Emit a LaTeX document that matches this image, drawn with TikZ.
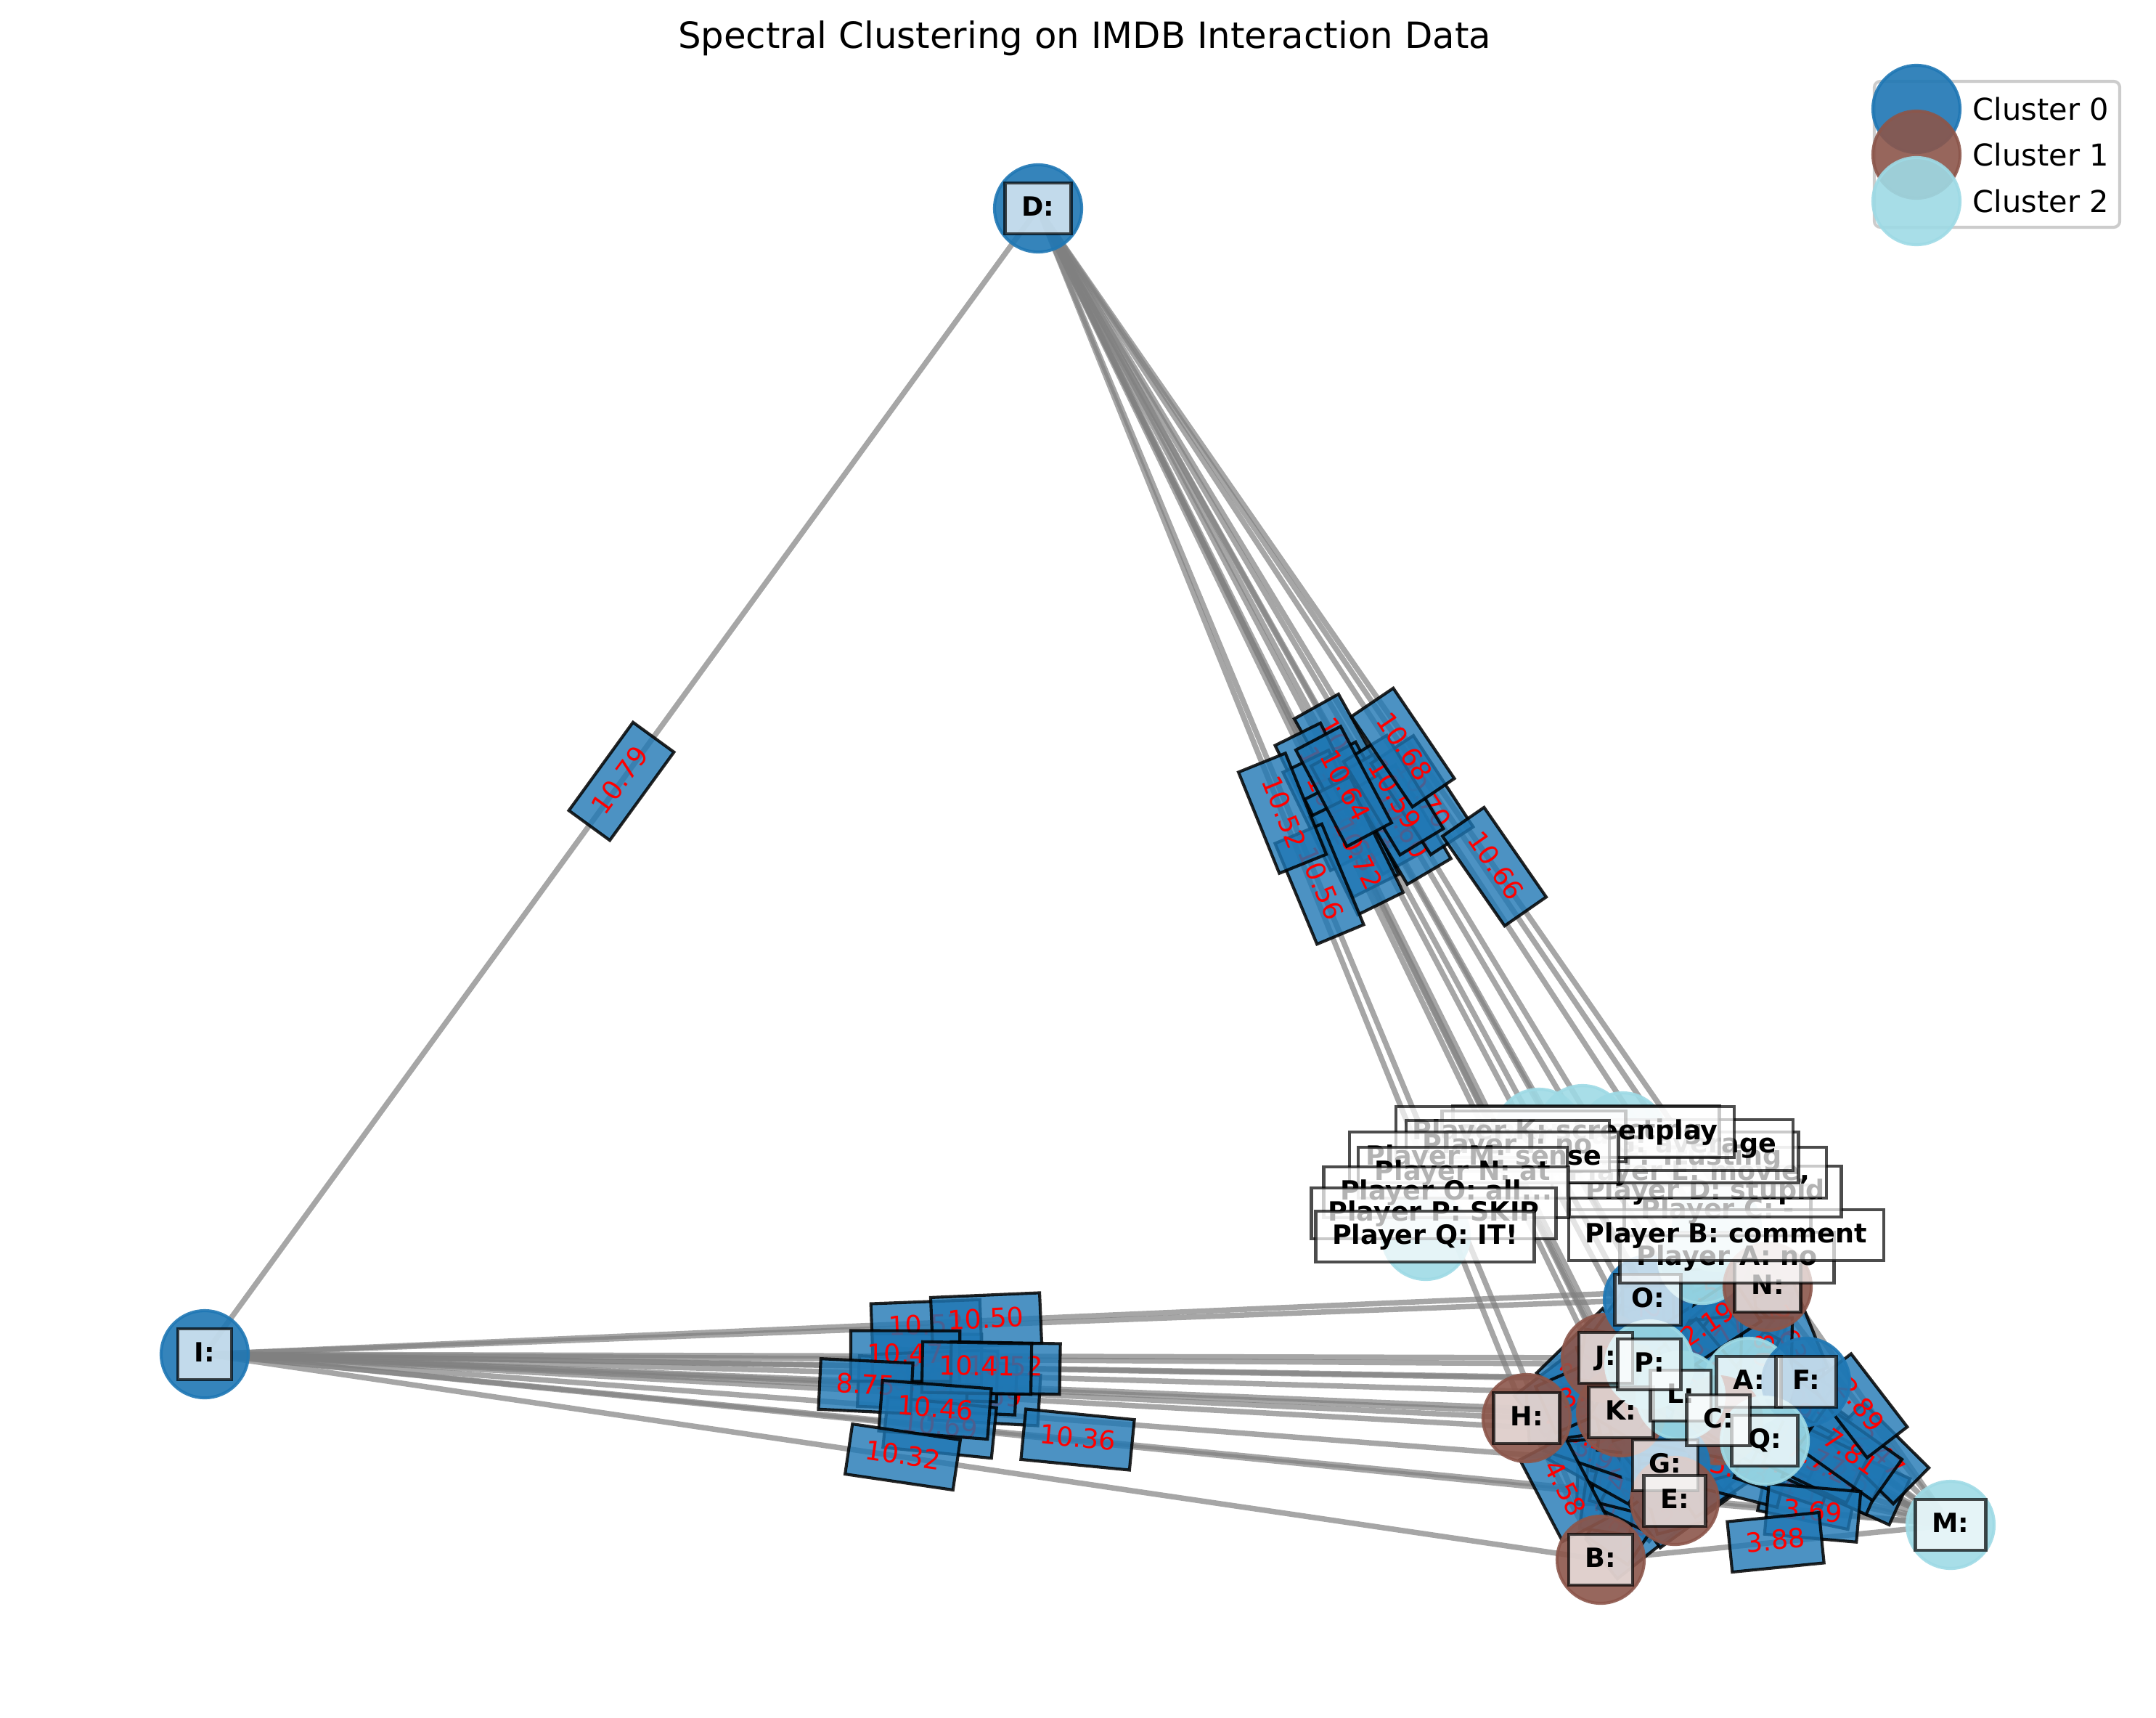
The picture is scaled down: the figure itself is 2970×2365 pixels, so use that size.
\documentclass[tikz,border=0pt]{standalone}
\usepackage{fontspec}
\setmainfont{DejaVu Sans}
\definecolor{c0}{RGB}{31,119,180}
\definecolor{c1}{RGB}{140,86,75}
\definecolor{c2}{RGB}{158,218,229}
\def\intra{A/B/5.12, A/C/2.34, A/E/4.76, A/F/3.05, A/G/6.21, A/H/5.43, A/J/3.87, A/K/4.19, A/L/2.66, A/N/3.52, A/O/4.03, A/P/2.91, A/Q/1.98,
B/C/4.27, B/E/2.85, B/F/5.66, B/G/3.14, B/J/4.92, B/K/3.73, B/L/4.41, B/N/5.29, B/O/5.07, B/P/4.64, B/Q/3.96,
C/E/2.58, C/F/3.47, C/G/2.73, C/H/4.11, C/J/3.28, C/K/2.96, C/L/1.87, C/N/3.63, C/O/3.39, C/P/2.42, C/Q/1.76,
E/F/4.38, E/G/2.17, E/H/3.92, E/J/3.55, E/K/2.69, E/L/3.01, E/N/4.47, E/O/4.22, E/P/3.36, E/Q/2.88,
F/G/4.53, F/H/5.71, F/J/4.68, F/K/4.84, F/L/3.22, F/N/2.63, F/O/3.79, F/P/3.58, F/Q/2.75,
G/H/3.24, G/J/3.61, G/K/2.38, G/L/2.52, G/M/4.16, G/N/4.33, G/O/3.82, G/P/2.99, G/Q/2.61,
H/J/2.81, H/K/2.44, H/L/3.67, H/M/5.93, H/N/4.89, H/O/3.46, H/P/3.18, H/Q/4.72,
J/K/1.93, J/L/2.27, J/M/5.38, J/N/3.11, J/O/2.56, J/P/1.84, J/Q/3.42,
K/L/2.09, K/M/5.02, K/N/3.76, K/O/3.27, K/P/2.31, K/Q/3.15,
L/N/2.72, L/O/2.48, L/P/1.69, L/Q/2.36,
M/O/4.97, M/P/4.86, M/Q/3.57,
N/O/2.54, N/Q/3.08,
O/P/2.23, O/Q/3.51,
P/Q/2.62,
C/M/3.21, F/M/2.47, L/M/7.77, A/M/7.81, E/M/3.69, M/N/2.89, N/P/2.19, B/H/4.58, B/M/3.88}
\def\dedges{D/O/10.69, D/J/10.65, D/K/10.62, D/L/10.67, D/C/10.61, D/G/10.63, D/Q/10.60, D/E/10.72, D/F/10.70, D/B/10.56, D/H/10.52, D/A/10.59, D/P/10.64, D/N/10.68, D/M/10.66, D/I/10.79}
\def\iedges{I/Q/10.59, I/C/10.50, I/L/10.48, I/K/10.45, I/P/10.44, I/E/10.69, I/O/10.52, I/N/10.50, I/J/10.47, I/F/10.52, I/A/10.41, I/H/8.75, I/G/10.46, I/B/10.32, I/M/10.36}
\begin{document}
\begin{tikzpicture}[x=0.0084667cm, y=-0.0084667cm,
  edge/.style={draw=gray, draw opacity=0.7, line width=1.8pt},
  elab/.style={fill=c0, fill opacity=0.8, draw=black, draw opacity=0.85, line width=1pt,
    text=red, text opacity=1, font=\fontsize{8.8}{10}\selectfont,
    inner xsep=5.5pt, inner ysep=3.9pt, text height=7pt, text depth=2pt},
  nlab/.style={fill=white, fill opacity=0.7, draw=black, draw opacity=0.7, line width=1.1pt,
    text opacity=1, font=\fontsize{8.8}{10}\selectfont\bfseries,
    inner xsep=5.5pt, inner ysep=3.9pt, text height=7pt, text depth=2pt},
  vtx0/.style={fill=c0, draw=c0, opacity=0.9, line width=1pt},
  vtx1/.style={fill=c1, draw=c1, opacity=0.9, line width=1pt},
  vtx2/.style={fill=c2, draw=c2, opacity=0.9, line width=1pt}]
\useasboundingbox (0,0) rectangle (2970,2365);
% node positions
\coordinate (A) at (2409,1903);
\coordinate (B) at (2205,2148);
\coordinate (C) at (2367,1956);
\coordinate (D) at (1430,287);
\coordinate (E) at (2307,2067);
\coordinate (F) at (2488,1903);
\coordinate (G) at (2294,2018);
\coordinate (H) at (2103,1953);
\coordinate (I) at (282,1865);
\coordinate (J) at (2212,1870);
\coordinate (K) at (2233,1945);
\coordinate (L) at (2315,1922);
\coordinate (M) at (2687,2100);
\coordinate (N) at (2435,1772);
\coordinate (O) at (2270,1790);
\coordinate (P) at (2272,1879);
\coordinate (Q) at (2431,1984);
\coordinate (X1) at (2120,1560);
\coordinate (X2) at (2180,1555);
\coordinate (X3) at (2235,1565);
\coordinate (X4) at (1964,1702);
\coordinate (X5) at (2345,1735);
\coordinate (X6) at (2365,1690);
% edges
\foreach \a/\b/\w in \intra {\draw[edge] (\a) -- (\b);}
\foreach \a/\b/\w in \dedges {\draw[edge] (\a) -- (\b);}
\foreach \a/\b/\w in \iedges {\draw[edge] (\a) -- (\b);}
% edge labels
\foreach \a/\b/\w in \intra {\path (\a) -- (\b) node[midway, sloped, elab] {\w};}
\foreach \a/\b/\w in \dedges {\path (\a) -- (\b) node[midway, sloped, elab] {\w};}
\foreach \a/\b/\w in \iedges {\path (\a) -- (\b) node[midway, sloped, elab] {\w};}
% node circles
\foreach \p/\s in {X1/vtx2, X2/vtx2, X3/vtx2, X4/vtx2, X6/vtx2, A/vtx2, B/vtx1, C/vtx1, D/vtx0, G/vtx0, E/vtx1, F/vtx0, H/vtx1, I/vtx0, J/vtx1, K/vtx1, L/vtx2, M/vtx2, O/vtx0, X5/vtx2, N/vtx1, P/vtx2, Q/vtx2}
  {\path[\s] (\p) circle[radius=60];}
% node labels
\foreach \p in {A, B, D, F, G, E, H, I, J, K, L, M, N, O, P, Q, C}
  {\node[nlab] (lab\p) at (\p) {\p:};}
% player texts
\node[nlab] (tA) at (2379,1732) {Player A: no};
\node[nlab] (tC) at (2366,1667) {Player C: -};
\node[nlab] (tB) at (2378,1701) {Player B: comment};
\node[nlab] (tD) at (2349,1641) {Player D: stupid};
\node[nlab] (tE) at (2327,1615) {Player E: movie,};
\node[nlab] (tF) at (2274,1594) {Player F: Trusting};
\node[nlab] (tG) at (2264,1577) {Player G: average};
\node[nlab] (tL) at (2185,1558) {Player L: acting};
\node[nlab] (tJ) at (2113,1565) {Player J: a};
\node[nlab] (tK) at (2156,1559) {Player K: screenplay};
\node[nlab] (tI) at (2077,1578) {Player I: no};
\node[nlab] (tM) at (2044,1594) {Player M: sense};
\node[nlab] (tN) at (2015,1615) {Player N: at};
\node[nlab] (tO) at (1992,1642) {Player O: all...};
\node[nlab] (tP) at (1975,1671) {Player P: SKIP};
\node[nlab] (tQ) at (1963,1703) {Player Q: IT!};
% title
\node[font=\fontsize{12}{14}\selectfont] (title) at (1494,53) {Spectral Clustering on IMDB Interaction Data};
% legend
\draw[rounded corners=2pt, draw=black!20, fill=white, fill opacity=0.8, line width=1pt] (2582,112) rectangle (2920,313);
\path[vtx0] (2640,150) circle[radius=60];
\path[vtx1] (2640,213) circle[radius=60];
\path[vtx2] (2640,277) circle[radius=60];
\node[anchor=west, font=\fontsize{10}{12}\selectfont, inner sep=0pt] (lg0) at (2717,150) {Cluster 0};
\node[anchor=west, font=\fontsize{10}{12}\selectfont, inner sep=0pt] (lg1) at (2717,213) {Cluster 1};
\node[anchor=west, font=\fontsize{10}{12}\selectfont, inner sep=0pt] (lg2) at (2717,277) {Cluster 2};
\end{tikzpicture}
\end{document}
